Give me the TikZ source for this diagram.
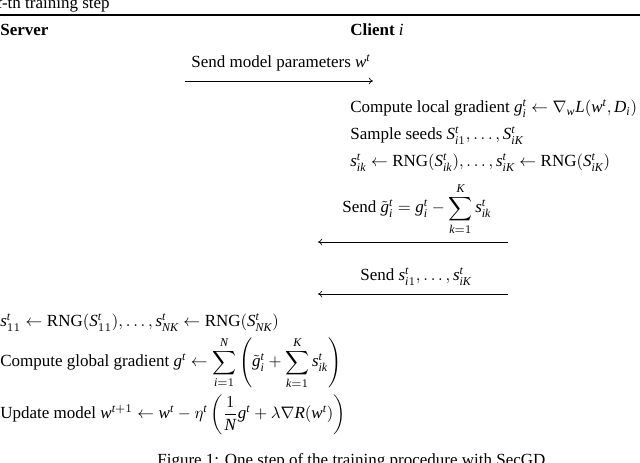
\documentclass[tikz,border=0pt]{standalone}
\usepackage{fontspec}
\setmainfont{Liberation Serif}
\usetikzlibrary{arrows.meta}
\edef\mytimesfam{\rmdefault}
\DeclareSymbolFont{tletters}{TU}{\mytimesfam}{m}{it}
\DeclareSymbolFont{tupright}{TU}{\mytimesfam}{m}{n}
\makeatletter
\@tfor\my@l:=abcdefghijklmnopqrstuvwxyzABCDEFGHIJKLMNOPQRSTUVWXYZ\do{%
  \expandafter\DeclareMathSymbol\expandafter{\my@l}{\mathalpha}{tletters}{\expandafter`\my@l}}
\@tfor\my@l:=0123456789\do{%
  \expandafter\DeclareMathSymbol\expandafter{\my@l}{\mathalpha}{tupright}{\expandafter`\my@l}}
\makeatother
\DeclareMathSymbol{(}{\mathopen}{tupright}{`(}
\DeclareMathSymbol{)}{\mathclose}{tupright}{`)}
\newcommand{\rng}{\mbox{RNG}}
\begin{document}
\begin{tikzpicture}[x=0.6pt,y=-0.6pt,
  txt/.style={anchor=base west,inner sep=0pt,font=\fontsize{10.2}{12}\selectfont},
  msg/.style={line width=0.4pt,-{To[length=2.5pt,width=4pt]}},
  rule/.style={line width=0.8pt}]
\useasboundingbox (0,0) rectangle (640,463);
\node[txt] (title) at (-3,9) {$t$-th training step};
\coordinate (rl) at (0,15);
\coordinate (rr) at (640,15);
\draw[rule] (rl) -- (rr);
\node[txt] (server) at (0,36) {\textbf{Server}};
\node[txt] (client) at (350,36) {\textbf{Client} $i$};
\node[txt] (m1) at (191,68) {Send model parameters $w^t$};
\coordinate (a1s) at (185,81);
\coordinate (a1e) at (373,81);
\draw[msg] (a1s) -- (a1e);
\node[txt] (c1) at (350,113) {Compute local gradient $g_i^t \leftarrow \nabla_w L(w^t, D_i)$};
\node[txt] (c2) at (350,140) {Sample seeds $S_{i1}^t, \ldots, S_{iK}^t$};
\node[txt] (c3) at (350,167) {$s_{ik}^t \leftarrow \rng(S_{ik}^t), \ldots, s_{iK}^t \leftarrow \rng(S_{iK}^t)$};
\node[txt] (m2) at (342,213) {Send $\displaystyle \tilde g_i^t = g_i^t - \sum_{k=1}^{K} s_{ik}^t$};
\coordinate (a2s) at (508,242);
\coordinate (a2e) at (318,242);
\draw[msg] (a2s) -- (a2e);
\node[txt] (m3) at (360,281) {Send $s_{i1}^t, \ldots, s_{iK}^t$};
\coordinate (a3s) at (508,294);
\coordinate (a3e) at (318,294);
\draw[msg] (a3s) -- (a3e);
\node[txt] (s1) at (0,327) {$s_{11}^t \leftarrow \rng(S_{11}^t), \ldots, s_{NK}^t \leftarrow \rng(S_{NK}^t)$};
\node[txt] (s2) at (0,367) {Compute global gradient $\displaystyle g^t \leftarrow \sum_{i=1}^{N} \left( \tilde g_i^t + \sum_{k=1}^{K} s_{ik}^t \right)$};
\node[txt] (s3) at (0,419) {Update model $\displaystyle w^{t+1} \leftarrow w^t - \eta^t \left( \frac{1}{N} g^t + \lambda \nabla R(w^t) \right)$};
\node[txt] (cap) at (157,466) {Figure 1: One step of the training procedure with SecGD.};
\end{tikzpicture}
\end{document}
